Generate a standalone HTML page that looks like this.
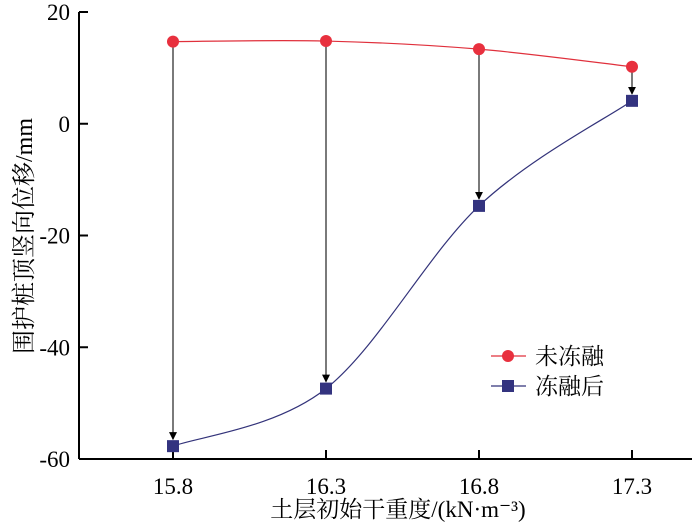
<!DOCTYPE html>
<html><head><meta charset="utf-8"><style>
body{margin:0;background:#fff}
svg text{font-family:"Liberation Serif","Noto Serif CJK SC",serif;fill:#000}
</style></head><body>
<svg id="c" width="700" height="526" xmlns="http://www.w3.org/2000/svg"></svg>
<script>
const categories=["15.8","16.3","16.8","17.3"];
const beforeVals=[14.7,14.8,13.35,10.2];
const afterVals=[-57.7,-47.4,-14.7,4.1];
const yTicks=[20,0,-20,-40,-60];
const NS="http://www.w3.org/2000/svg";
const svg=document.getElementById('c');
const X0=79,X1=692,Y20=12,Ym60=459;
const xs=i=>173+i*153;
const ys=v=>Y20+(20-v)*(Ym60-Y20)/80;
const FF='"Liberation Serif","Noto Serif CJK SC",serif';
function el(t,a,p){const e=document.createElementNS(NS,t);for(const k in a)e.setAttribute(k,a[k]);if(t==='text')e.setAttribute('font-family',FF);(p||svg).appendChild(e);return e;}
const defs=el('defs',{});
const m=el('marker',{id:'ah',markerWidth:8,markerHeight:8,refX:7,refY:4,orient:'auto',markerUnits:'userSpaceOnUse'},defs);
el('path',{d:'M0,0 L8,4 L0,8 Z',fill:'#000'},m);
let a=el('line',{x1:X0,y1:Y20,x2:X0,y2:Ym60,stroke:'#000','stroke-width':2});

a=el('line',{x1:X0,y1:Ym60,x2:X1,y2:Ym60,stroke:'#000','stroke-width':2});

yTicks.forEach(v=>{
 el('line',{x1:X0,y1:ys(v),x2:X0+9,y2:ys(v),stroke:'#000','stroke-width':2});
 const t=el('text',{x:X0-9,y:ys(v)+8,'text-anchor':'end','font-size':23});t.textContent=v;
 
});
categories.forEach((c,i)=>{
 el('line',{x1:xs(i),y1:Ym60,x2:xs(i),y2:Ym60-9,stroke:'#000','stroke-width':2});
 const t=el('text',{x:xs(i),y:Ym60+35,'text-anchor':'middle','font-size':23});t.textContent=c;
 
});
let t=el('text',{x:398,y:517,'text-anchor':'middle','font-size':23});t.textContent='土层初始干重度/(kN·m⁻³)';

t=el('text',{x:0,y:0,'text-anchor':'middle','font-size':24,transform:'translate(32,236) rotate(-90)'});t.textContent='围护桩顶竖向位移/mm';

function smooth(vals){const p=vals.map((v,i)=>[xs(i),ys(v)]);let d='M'+p[0];
 for(let i=0;i<p.length-1;i++){const p0=p[i-1]||p[i],p1=p[i],p2=p[i+1],p3=p[i+2]||p2;
  const c1=[p1[0]+(p2[0]-p0[0])/6,p1[1]+(p2[1]-p0[1])/6],c2=[p2[0]-(p3[0]-p1[0])/6,p2[1]-(p3[1]-p1[1])/6];
  d+=' C'+c1+' '+c2+' '+p2;}return d;}
categories.forEach((c,i)=>{
 const l=el('line',{x1:xs(i),y1:ys(beforeVals[i]),x2:xs(i),y2:ys(afterVals[i])-7,stroke:'#222','stroke-width':1.2,'marker-end':'url(#ah)'});
 
});
let p=el('path',{d:smooth(beforeVals),fill:'none',stroke:'#e0303c','stroke-width':1.2});

p=el('path',{d:smooth(afterVals),fill:'none',stroke:'#33337a','stroke-width':1.2});

beforeVals.forEach((v,i)=>{const c=el('circle',{cx:xs(i),cy:ys(v),r:6,fill:'#e8303e'});
 });
afterVals.forEach((v,i)=>{const r=el('rect',{x:xs(i)-6,y:ys(v)-6,width:12,height:12,fill:'#33337f'});
 });
el('line',{x1:491,y1:356,x2:526,y2:356,stroke:'#e0303c','stroke-width':1.2});
let lc=el('circle',{cx:508,cy:356,r:6,fill:'#e8303e'});

t=el('text',{x:535,y:364,'font-size':23});t.textContent='未冻融';

el('line',{x1:491,y1:386,x2:526,y2:386,stroke:'#33337a','stroke-width':1.2});
lc=el('rect',{x:502,y:380,width:12,height:12,fill:'#33337f'});

t=el('text',{x:535,y:394,'font-size':23});t.textContent='冻融后';

</script>
</body></html>
